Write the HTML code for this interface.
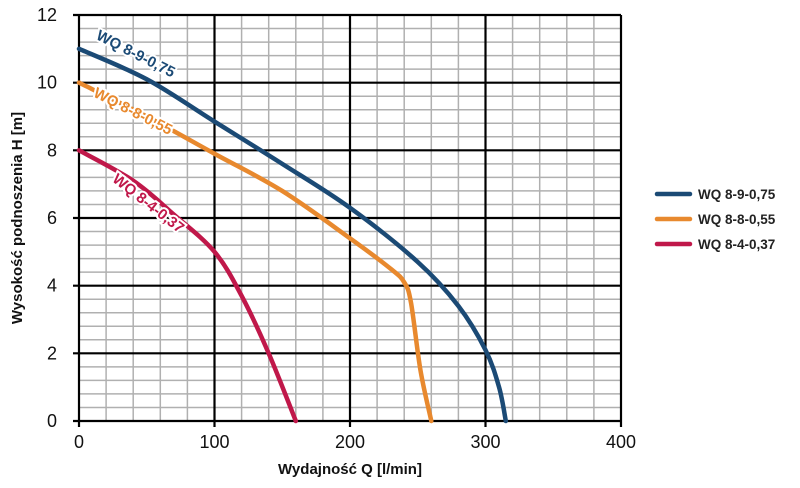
<!DOCTYPE html>
<html><head><meta charset="utf-8"><style>
body{margin:0;background:#fff;font-family:"Liberation Sans",sans-serif}
</style></head><body>
<svg id="c" width="800" height="483" xmlns="http://www.w3.org/2000/svg"></svg>
<script>
const xTicks=[0,100,200,300,400];
const yTicks=[0,2,4,6,8,10,12];
const seriesNames=["WQ 8-9-0,75","WQ 8-8-0,55","WQ 8-4-0,37"];
const seriesColors=["#1b4a75","#e8892e","#c0184a"];
const q1=[0,50,100,150,200,250,280,300,310,315];
const h1=[11,10.1,8.85,7.6,6.3,4.7,3.4,2.1,1,0];
const q2=[0,50,100,150,200,230,240,245,252,260];
const h2=[10,9,7.9,6.8,5.4,4.5,4.1,3.5,1.5,0];
const q3=[0,40,70,100,120,140,160];
const h3=[8,7.1,6.1,5,3.7,2,0];
const NS="http://www.w3.org/2000/svg";
const svg=document.getElementById('c');
const X0=79,X1=621,Y0=421,Y1=15;
const sx=v=>X0+(v-0)/400*(X1-X0);
const sy=v=>Y0-(v-0)/12*(Y0-Y1);
function el(t,a,p){const e=document.createElementNS(NS,t);for(const k in a)e.setAttribute(k,a[k]);(p||svg).appendChild(e);return e;}
const grid=el('g',{});


for(let v=0;v<=400;v+=20){if(v%100)el('line',{x1:sx(v),x2:sx(v),y1:sy(12),y2:sy(0),stroke:'#b0b0b0','stroke-width':1.5},grid);}
for(let v=0;v<=12.001;v+=0.4){if(Math.abs(v/2-Math.round(v/2))>0.01)el('line',{x1:sx(0),x2:sx(400),y1:sy(v),y2:sy(v),stroke:'#b0b0b0','stroke-width':1.5},grid);}
xTicks.forEach(v=>{el('line',{x1:sx(v),x2:sx(v),y1:sy(12),y2:sy(0)+6,stroke:'#000','stroke-width':2.2},grid);
const t=el('text',{x:sx(v),y:448,'text-anchor':'middle','font-size':18,fill:'#111'});t.textContent=v;

});
yTicks.forEach(v=>{el('line',{x1:sx(0)-6,x2:sx(400),y1:sy(v),y2:sy(v),stroke:'#000','stroke-width':2.2},grid);
const t=el('text',{x:57,y:sy(v)+6,'text-anchor':'end','font-size':18,fill:'#111'});t.textContent=v;

});
const qs=[q1,q2,q3],hs=[h1,h2,h3];
function smooth(px){let d=`M${px[0][0]},${px[0][1]}`;for(let i=0;i<px.length-1;i++){const p0=px[i-1]||px[i],p1=px[i],p2=px[i+1],p3=px[i+2]||p2;
d+=` C${p1[0]+(p2[0]-p0[0])/6},${p1[1]+(p2[1]-p0[1])/6} ${p2[0]-(p3[0]-p1[0])/6},${p2[1]-(p3[1]-p1[1])/6} ${p2[0]},${p2[1]}`;}return d;}
const labelPos=[[12,11.3,27],[10,9.6,27],[24,7.1,38]];
qs.forEach((q,i)=>{const pts=q.map((v,j)=>[sx(v),sy(hs[i][j])]);
const p=el('path',{d:smooth(pts),fill:'none',stroke:seriesColors[i],'stroke-width':4.5,'stroke-linecap':'round'});


const lp=labelPos[i];const lx=sx(lp[0]),ly=sy(lp[1]);
const t=el('text',{x:lx,y:ly,'font-size':15,'font-weight':'bold',fill:seriesColors[i],stroke:'#fff','stroke-width':4,'paint-order':'stroke',transform:`rotate(${lp[2]} ${lx} ${ly})`});
t.textContent=seriesNames[i];


const ly2=194+i*25;
const lg=el('g',{});


el('line',{x1:657,x2:690,y1:ly2,y2:ly2,stroke:seriesColors[i],'stroke-width':4.5,'stroke-linecap':'round'},lg);
const tt=el('text',{x:698,y:ly2+5,'font-size':13.5,'font-weight':'bold',fill:'#222'},lg);tt.textContent=seriesNames[i];});
const xt=el('text',{x:350,y:474,'text-anchor':'middle','font-size':15,'font-weight':'bold',fill:'#111'});xt.textContent='Wydajność Q [l/min]';


const yt=el('text',{x:22,y:218,'text-anchor':'middle','font-size':15,'font-weight':'bold',fill:'#111',transform:'rotate(-90 22 218)'});yt.textContent='Wysokość podnoszenia H [m]';


</script>
</body></html>
